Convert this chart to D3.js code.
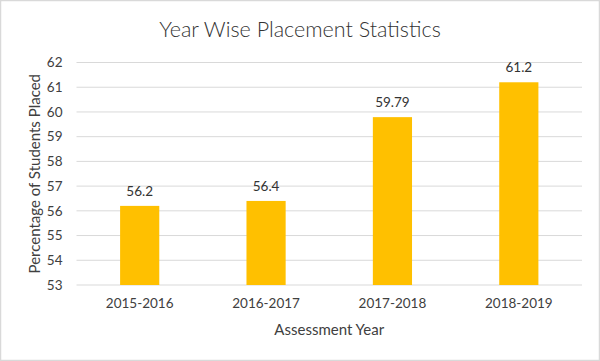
<!DOCTYPE html>
<html><head><meta charset="utf-8">
<script src="https://cdn.jsdelivr.net/npm/d3@7"></script>
<style>body{margin:0;background:#fff}svg{display:block;font-family:Lato,"Open Sans",sans-serif}</style>
</head><body><svg id="c" width="600" height="361"></svg>
<script>
const categories = ["2015-2016","2016-2017","2017-2018","2018-2019"];
const values = [56.2, 56.4, 59.79, 61.2];
const valueLabels = ["56.2","56.4","59.79","61.2"];
const yTicks = [53,54,55,56,57,58,59,60,61,62];
const title = "Year Wise Placement Statistics";
const xTitle = "Assessment Year";
const yTitle = "Percentage of Students Placed";

const svg = d3.select("#c");
const W = 600, H = 361;
const m = {left:76.5, right:582, top:62.5, bottom:285};

svg.append("rect").attr("x",0.5).attr("y",0.5).attr("width",W-1).attr("height",H-1)
  .attr("fill","#fff").attr("stroke","#d9d9d9").attr("stroke-width",1.5);

const x = d3.scaleBand().domain(categories).range([m.left,m.right]).paddingInner(0.69).paddingOuter(0.345);
const y = d3.scaleLinear().domain([53,62]).range([m.bottom,m.top]);

// gridlines
svg.append("g").selectAll("line").data(yTicks).join("line")
  .attr("x1",m.left).attr("x2",m.right)
  .attr("y1",d=>y(d)).attr("y2",d=>y(d))
  .attr("stroke","#d9d9d9").attr("stroke-width",1);

// y axis labels
const yAxis = svg.append("g").attr("transform",`translate(${m.left},0)`)
  .call(d3.axisLeft(y).tickValues(yTicks).tickSize(0).tickPadding(14).tickFormat(d3.format("d")));
yAxis.select(".domain").remove();
yAxis.selectAll("text").attr("font-size",13.5).attr("fill","#404040").attr("font-family","Lato,'Open Sans',sans-serif");

// x axis labels
const xAxis = svg.append("g").attr("transform",`translate(0,${m.bottom})`)
  .call(d3.axisBottom(x).tickSize(0).tickPadding(13));
xAxis.select(".domain").remove();
xAxis.selectAll("text").attr("font-size",13.5).attr("fill","#404040").attr("font-family","Lato,'Open Sans',sans-serif");

// bars
svg.append("g").selectAll("rect").data(values).join("rect")
  .attr("x",(d,i)=>x(categories[i]))
  .attr("width",x.bandwidth())
  .attr("y",d=>y(d))
  .attr("height",d=>y(53)-y(d))
  .attr("fill","#FFC000");

// data labels
svg.append("g").selectAll("text").data(values).join("text")
  .attr("x",(d,i)=>x(categories[i])+x.bandwidth()/2)
  .attr("y",d=>y(d)-10)
  .attr("text-anchor","middle")
  .attr("font-size",13.5).attr("fill","#333")
  .text((d,i)=>valueLabels[i]);

// title
svg.append("text").attr("x",300).attr("y",37).attr("text-anchor","middle")
  .attr("font-size",21.5).attr("font-weight",300).attr("fill","#333").text(title);

// axis titles
svg.append("text").attr("x",(m.left+m.right)/2).attr("y",335).attr("text-anchor","middle")
  .attr("font-size",15).attr("fill","#404040").text(xTitle);
svg.append("text").attr("transform",`translate(40,${(m.top+m.bottom)/2}) rotate(-90)`)
  .attr("text-anchor","middle").attr("font-size",15).attr("fill","#404040").text(yTitle);
</script></body></html>
